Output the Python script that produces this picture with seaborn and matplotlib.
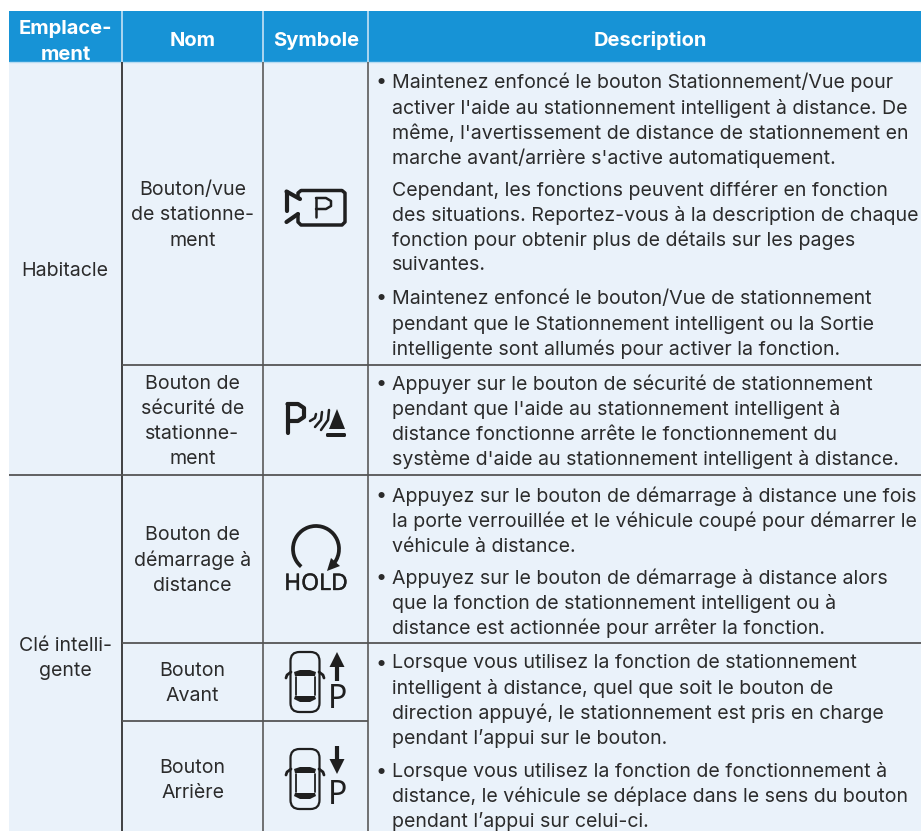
import numpy as np
import matplotlib
matplotlib.use("Agg")
import matplotlib.pyplot as plt
import matplotlib.patheffects as pe
from matplotlib.patches import Rectangle, FancyBboxPatch, Polygon, Arc
import seaborn as sns

sns.set_theme(style="white")
plt.rcParams['font.family'] = ['Inter', 'DejaVu Sans']

HEADERS = [["Emplace-", "ment"], ["Nom"], ["Symbole"], ["Description"]]
HEADER_CX = [65.5, 192.5, 316, 650]
LOCATIONS = [(["Habitacle"], 271.5), (["Clé intelli-", "gente"], 658.5)]
NAMES = [
    (["Bouton/vue", "de stationne-", "ment"], 215.5),
    (["Bouton de", "sécurité de", "stationne-", "ment"], 421.5),
    (["Bouton de", "démarrage à", "distance"], 560.5),
    (["Bouton", "Avant"], 683.5),
    (["Bouton", "Arrière"], 780.5),
]
DESC = [
    (82, "•", "Maintenez enfoncé le bouton Stationnement/Vue pour"),
    (108, "", "activer l'aide au stationnement intelligent à distance. De"),
    (133, "", "même, l'avertissement de distance de stationnement en"),
    (158, "", "marche avant/arrière s'active automatiquement."),
    (190, "", "Cependant, les fonctions peuvent différer en fonction"),
    (215, "", "des situations. Reportez-vous à la description de chaque"),
    (240, "", "fonction pour obtenir plus de détails sur les pages"),
    (265, "", "suivantes."),
    (298, "•", "Maintenez enfoncé le bouton/Vue de stationnement"),
    (324, "", "pendant que le Stationnement intelligent ou la Sortie"),
    (349, "", "intelligente sont allumés pour activer la fonction."),
    (384, "•", "Appuyer sur le bouton de sécurité de stationnement"),
    (409, "", "pendant que l'aide au stationnement intelligent à"),
    (434, "", "distance fonctionne arrête le fonctionnement du"),
    (459, "", "système d'aide au stationnement intelligent à distance."),
    (496, "•", "Appuyez sur le bouton de démarrage à distance une fois"),
    (521, "", "la porte verrouillée et le véhicule coupé pour démarrer le"),
    (546, "", "véhicule à distance."),
    (578, "•", "Appuyez sur le bouton de démarrage à distance alors"),
    (603, "", "que la fonction de stationnement intelligent ou à"),
    (628, "", "distance est actionnée pour arrêter la fonction."),
    (663, "•", "Lorsque vous utilisez la fonction de stationnement"),
    (688, "", "intelligent à distance, quel que soit le bouton de"),
    (713, "", "direction appuyé, le stationnement est pris en charge"),
    (738, "", "pendant l’appui sur le bouton."),
    (771, "•", "Lorsque vous utilisez la fonction de fonctionnement à"),
    (796, "", "distance, le véhicule se déplace dans le sens du bouton"),
    (821, "", "pendant l’appui sur celui-ci."),
]

INK = "#2b2b2b"
BLUE = "#1793d6"
BODY = "#eaf2fa"
HSEP = "#b8dcf2"
RULE = "#555555"
FS = 14.1
FS_HEAD = 14.5
LINE = 1.3

fig = plt.figure(figsize=(9.21, 8.31), dpi=100, facecolor="white")
ax = fig.add_axes([0, 0, 1, 1])
ax.set_xlim(0, 921)
ax.set_ylim(831, 0)
ax.axis("off")

col_x = [9, 122, 263, 368, 921]

ax.add_patch(Rectangle((9, 11), 912, 50.5, fc=BLUE, ec="none", zorder=1))
ax.add_patch(Rectangle((9, 62), 912, 769, fc=BODY, ec="none", zorder=1))

for lines, cx in zip(HEADERS, HEADER_CX):
    ys = [29, 54.5] if len(lines) == 2 else [41]
    for ln, y in zip(lines, ys):
        t = ax.text(cx, y, ln, color="white", fontsize=FS_HEAD, fontweight="bold",
                    ha="center", va="center", zorder=3)
        t.set_clip_path(Rectangle((9, 11), 912, 50.5, transform=ax.transData))
for x in col_x[1:4]:
    ax.plot([x, x], [11, 62], color=HSEP, lw=1.3, zorder=4, solid_capstyle="butt")
ax.plot([9, 921], [61.7, 61.7], color=HSEP, lw=1.0, zorder=4, solid_capstyle="butt")

ax.plot([122, 122], [62, 831], color="#333333", lw=LINE, zorder=4, solid_capstyle="butt")
for x in (263, 368):
    ax.plot([x, x], [62, 831], color="#666666", lw=LINE, zorder=4, solid_capstyle="butt")
for x0, x1, y in [(122, 921, 364.5), (9, 921, 475), (122, 921, 643), (122, 368, 720.5)]:
    ax.plot([x0, x1], [y, y], color=RULE, lw=LINE, zorder=4, solid_capstyle="butt")


def centered(lines, cy, cx):
    n = len(lines)
    for k, ln in enumerate(lines):
        ax.text(cx, cy + (k - (n - 1) / 2) * 25.2, ln, color=INK, fontsize=FS,
                ha="center", va="center", zorder=3)


for lines, cy in LOCATIONS:
    centered(lines, cy, 65)
for lines, cy in NAMES:
    centered(lines, cy, 192.5)

for y, bullet, text in DESC:
    if bullet:
        ax.text(375.5, y + 0.5, bullet, color=INK, fontsize=FS, ha="left", va="center", zorder=3)
    ax.text(392, y + 0.5, text, color=INK, fontsize=FS, ha="left", va="center", zorder=3)

IC = "#1f1f1f"


def stroke(xs, ys, lw=2.0, cap="round"):
    ax.plot(xs, ys, color=IC, lw=lw, solid_capstyle=cap, solid_joinstyle="round", zorder=5)


def icon_camera():
    stroke([298, 298, 301, 342, 345, 345, 342, 301, 298, 298],
           [197, 193, 190.5, 190.5, 193, 222, 225, 225, 222, 214], lw=2.5)
    stroke([286.5, 300], [191.5, 199], lw=3)
    stroke([286.5, 286.5], [191.5, 211], lw=3)
    stroke([286.5, 298], [222, 214], lw=3)
    stroke([316, 316], [217, 198], lw=1.8)
    stroke([316, 326, 331, 331, 326, 316], [198, 198, 201, 206, 209, 209], lw=1.8)


def icon_sensor():
    stroke([287.5, 287.5], [433, 404], lw=3)
    stroke([287.5, 298, 304, 304, 298, 289], [404, 404, 408, 417, 421, 421], lw=3)
    stroke([316, 315, 310], [414, 418, 421], lw=1.8)
    stroke([322, 321, 315], [412, 420, 427], lw=1.8)
    stroke([329, 328, 321], [410, 420, 430], lw=1.8)
    ax.add_patch(Polygon([[337, 409], [345, 429], [329, 429]], fc=IC, ec="none", zorder=5))
    ax.add_patch(FancyBboxPatch((326, 433), 20, 4, boxstyle="round,pad=0,rounding_size=1.5",
                                fc=IC, ec="none", zorder=5))


def icon_hold():
    ax.add_patch(Arc((316, 549), 46, 46, angle=0, theta1=130, theta2=405, color=IC, lw=2.7, zorder=5))
    ax.add_patch(Polygon([[327, 571], [331, 558], [340, 566]], fc=IC, ec="none", zorder=5))
    ax.text(316, 584, "HOLD", color=IC, fontsize=16.5, ha="center", va="center", zorder=5,
            family=["Noto Sans", "DejaVu Sans"],
            path_effects=[pe.withStroke(linewidth=0.25, foreground=IC)])


def icon_car(dy, up):
    ax.add_patch(FancyBboxPatch((290.5, 652 + dy), 29, 60, boxstyle="round,pad=0,rounding_size=9",
                                fc="none", ec=IC, lw=1.6, zorder=5))
    ax.add_patch(Polygon([[294, 672 + dy], [300, 670 + dy], [310, 670 + dy], [316, 672 + dy],
                          [315, 676 + dy], [295, 676 + dy]], fc=IC, ec="none", zorder=5))
    ax.add_patch(Polygon([[295, 696 + dy], [315, 696 + dy], [316, 699 + dy], [310, 702 + dy],
                          [300, 702 + dy], [294, 699 + dy]], fc=IC, ec="none", zorder=5))
    stroke([295.5, 295.5], [677 + dy, 695 + dy], lw=1.3)
    stroke([314.5, 314.5], [677 + dy, 695 + dy], lw=1.3)
    stroke([286, 287, 291], [678 + dy, 675 + dy, 672 + dy], lw=2)
    stroke([324, 323, 319], [678 + dy, 675 + dy, 672 + dy], lw=2)
    if up:
        ax.add_patch(Polygon([[337, 652 + dy], [344.5, 667 + dy], [329.5, 667 + dy]], fc=IC, ec="none", zorder=5))
        stroke([337, 337], [665 + dy, 681 + dy], lw=3, cap="butt")
    else:
        ax.add_patch(Polygon([[337, 677 + dy], [344.5, 662 + dy], [329.5, 662 + dy]], fc=IC, ec="none", zorder=5))
        stroke([337, 337], [649 + dy, 664 + dy], lw=3, cap="butt")
    ax.text(337, 699 + dy, "P", color=IC, fontsize=23, ha="center", va="center", zorder=5,
            family=["Noto Sans", "DejaVu Sans"])


icon_camera()
icon_sensor()
icon_hold()
icon_car(0, True)
icon_car(97, False)

fig.savefig("out.png", dpi=100, facecolor="white")
